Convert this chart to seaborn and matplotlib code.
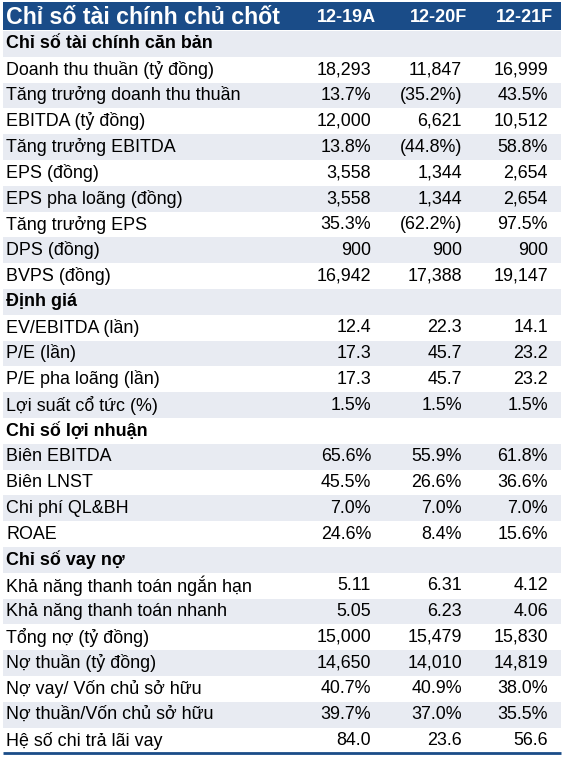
import matplotlib.pyplot as plt
import seaborn as sns

# --- data ---
title = "Chỉ số tài chính chủ chốt"
periods = ["12-19A", "12-20F", "12-21F"]

row_labels = [
    "Chỉ số tài chính căn bản",
    "Doanh thu thuần (tỷ đồng)", "Tăng trưởng doanh thu thuần", "EBITDA (tỷ đồng)",
    "Tăng trưởng EBITDA", "EPS (đồng)", "EPS pha loãng (đồng)", "Tăng trưởng EPS",
    "DPS (đồng)", "BVPS (đồng)",
    "Định giá",
    "EV/EBITDA (lần)", "P/E (lần)", "P/E pha loãng (lần)", "Lợi suất cổ tức (%)",
    "Chỉ số lợi nhuận",
    "Biên EBITDA", "Biên LNST", "Chi phí QL&BH", "ROAE",
    "Chỉ số vay nợ",
    "Khả năng thanh toán ngắn hạn", "Khả năng thanh toán nhanh", "Tổng nợ (tỷ đồng)",
    "Nợ thuần (tỷ đồng)", "Nợ vay/ Vốn chủ sở hữu", "Nợ thuần/Vốn chủ sở hữu",
    "Hệ số chi trả lãi vay",
]
section_rows = ["Chỉ số tài chính căn bản", "Định giá", "Chỉ số lợi nhuận", "Chỉ số vay nợ"]

col_1219 = ["", "18,293", "13.7%", "12,000", "13.8%", "3,558", "3,558", "35.3%", "900", "16,942",
            "", "12.4", "17.3", "17.3", "1.5%",
            "", "65.6%", "45.5%", "7.0%", "24.6%",
            "", "5.11", "5.05", "15,000", "14,650", "40.7%", "39.7%", "84.0"]
col_1220 = ["", "11,847", "(35.2%)", "6,621", "(44.8%)", "1,344", "1,344", "(62.2%)", "900", "17,388",
            "", "22.3", "45.7", "45.7", "1.5%",
            "", "55.9%", "26.6%", "7.0%", "8.4%",
            "", "6.31", "6.23", "15,479", "14,010", "40.9%", "37.0%", "23.6"]
col_1221 = ["", "16,999", "43.5%", "10,512", "58.8%", "2,654", "2,654", "97.5%", "900", "19,147",
            "", "14.1", "23.2", "23.2", "1.5%",
            "", "61.8%", "36.6%", "7.0%", "15.6%",
            "", "4.12", "4.06", "15,830", "14,819", "38.0%", "35.5%", "56.6"]

# --- style ---
sns.set_theme(style="white")
plt.rcParams['font.family'] = ['Liberation Sans', 'DejaVu Sans']

navy = "#1a4c88"
stripe = "#e8ebf2"

fig = plt.figure(figsize=(5.64, 7.57), dpi=100)
ax = fig.add_axes([0, 0, 1, 1])
ax.set_xlim(0, 564)
ax.set_ylim(757, 0)
ax.axis("off")

left, right = 3, 561
head_top, head_bot = 2, 30
row_h = 25.8
col_right = [371, 462, 548]

# header band
ax.axhspan(head_top, head_bot, xmin=left / 564, xmax=right / 564, color=navy, lw=0)
ax.text(6, (head_top + head_bot) / 2 + 1, title, color="white", fontsize=16.7,
        fontweight="bold", va="center", ha="left")
for x, p in zip(col_right, periods):
    ax.text(x + 5, (head_top + head_bot) / 2 + 1, p, color="white", fontsize=13,
            fontweight="bold", va="center", ha="right")

# body rows
values = list(zip(col_1219, col_1220, col_1221))
for i, lab in enumerate(row_labels):
    top = head_bot + 1 + i * row_h
    yc = top + row_h / 2
    if i % 2 == 0:
        ax.axhspan(top, top + row_h, xmin=left / 564, xmax=right / 564, color=stripe, lw=0)
    is_sec = lab in section_rows
    ax.text(6, yc, lab, color="black", fontsize=12.9,
            fontweight="bold" if is_sec else "normal", va="center", ha="left")
    for x, v in zip(col_right, values[i]):
        if v:
            ax.text(x, yc, v, color="black", fontsize=12.9, va="center", ha="right")

bottom = head_bot + 1 + len(row_labels) * row_h
ax.plot([left, right], [bottom, bottom], color=navy, lw=2, solid_capstyle="butt")

fig.savefig("out.png", dpi=100)
